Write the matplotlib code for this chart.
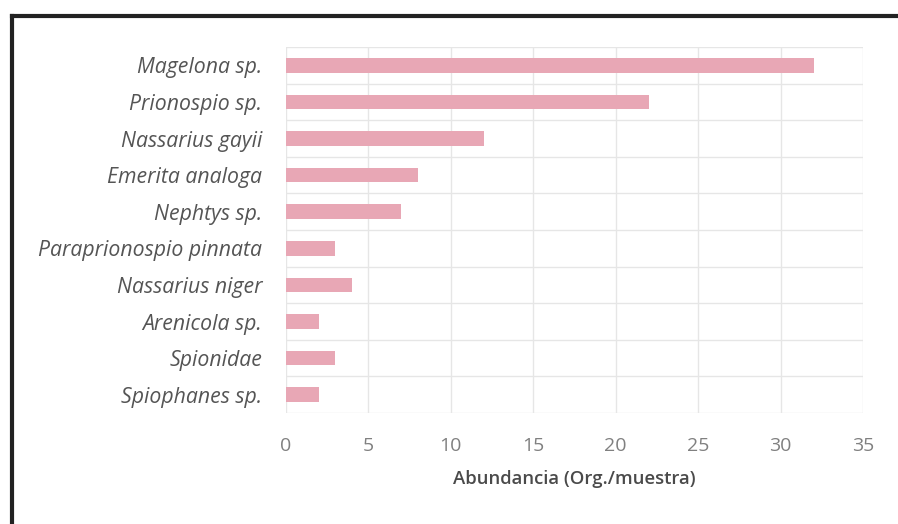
import matplotlib
matplotlib.use('Agg')
import matplotlib.pyplot as plt
from matplotlib.lines import Line2D

# datos (de arriba hacia abajo)
species = ['Magelona sp.', 'Prionospio sp.', 'Nassarius gayii', 'Emerita analoga',
           'Nephtys sp.', 'Paraprionospio pinnata', 'Nassarius niger',
           'Arenicola sp.', 'Spionidae', 'Spiophanes sp.']
abundance = [32, 22, 12, 8, 7, 3, 4, 2, 3, 2]
xticks = [0, 5, 10, 15, 20, 25, 30, 35]

plt.rcParams['font.family'] = ['Open Sans', 'DejaVu Sans']

fig = plt.figure(figsize=(8.98, 5.24), dpi=100)
ax = fig.add_axes([0.3185, 0.2118, 0.6425, 0.6985])

ypos = list(range(len(species)))[::-1]
ax.barh(ypos, abundance, height=0.4, color='#E8A7B5', zorder=3)

ax.set_xlim(0, 35)
ax.set_ylim(-0.5, len(species) - 0.5)
ax.set_xticks(xticks)
ax.set_xticklabels([str(t) for t in xticks], fontsize=14, color='#808080')
ax.set_yticks(ypos)
ax.set_yticklabels(species, fontsize=15.3, style='italic', color='#555555')
ax.tick_params(axis='y', length=0, pad=17)
ax.tick_params(axis='x', length=0, pad=17)

# rejilla: verticales en los ticks, horizontales entre categorías
ax.set_yticks([y + 0.5 for y in range(-1, len(species))], minor=True)
ax.grid(axis='x', color='#e6e6e6', lw=1, zorder=0)
ax.grid(axis='y', which='minor', color='#e6e6e6', lw=1, zorder=0)
ax.tick_params(which='minor', length=0)
for s in ax.spines.values():
    s.set_visible(False)

ax.set_xlabel('Abundancia (Org./muestra)', fontsize=13.3, fontweight='semibold',
              color='#4a4a4a', labelpad=11)

# marco del escaneo
fig.add_artist(Line2D([0.0134, 1.0], [0.9704, 0.9704], color='#222222', lw=3))
fig.add_artist(Line2D([0.0134, 0.0134], [0.0, 0.9704], color='#222222', lw=3))

plt.savefig('out.png', dpi=100)
plt.close()
